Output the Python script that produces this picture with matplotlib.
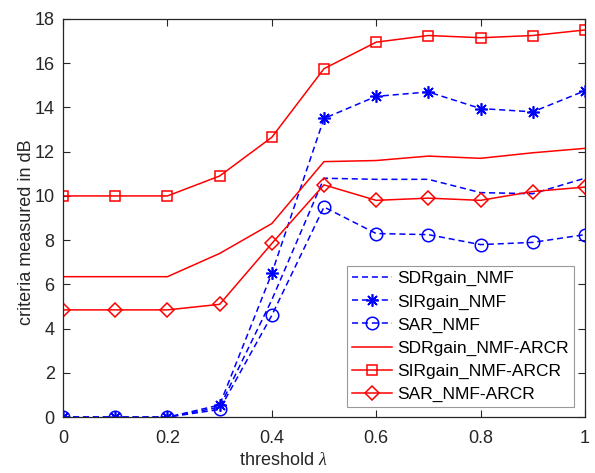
import numpy as np
import matplotlib
matplotlib.use("Agg")
from matplotlib import pyplot as plt

plt.rcParams['font.family'] = ['Liberation Sans', 'DejaVu Sans']
plt.rcParams['mathtext.fontset'] = 'custom'
plt.rcParams['mathtext.it'] = 'Liberation Serif:italic'

lam = [0, 0.1, 0.2, 0.3, 0.4, 0.5, 0.6, 0.7, 0.8, 0.9, 1.0]

# NMF
sdr_nmf = [0, 0, 0, 0.45, 5.3, 10.8, 10.75, 10.75, 10.15, 10.1, 10.8]
sir_nmf = [0, 0, 0, 0.55, 6.5, 13.5, 14.5, 14.7, 13.95, 13.8, 14.75]
sar_nmf = [0, 0, 0, 0.35, 4.6, 9.5, 8.3, 8.25, 7.8, 7.9, 8.25]

# NMF-ARCR
sdr_arcr = [6.35, 6.35, 6.35, 7.4, 8.75, 11.55, 11.6, 11.8, 11.7, 11.95, 12.15]
sir_arcr = [10, 10, 10, 10.9, 12.65, 15.75, 16.95, 17.25, 17.15, 17.25, 17.5]
sar_arcr = [4.85, 4.85, 4.85, 5.1, 7.85, 10.5, 9.8, 9.9, 9.8, 10.2, 10.4]

fig = plt.figure(figsize=(5.95, 4.73), dpi=100)
ax = fig.add_axes([0.106, 0.118, 0.877, 0.842])

dash = (4, 2.5)
lw = 1.1
ax.plot(lam, sdr_nmf, '--', color='b', lw=lw, dashes=dash, label='SDRgain_NMF')
ax.plot(lam, sir_nmf, '--', marker=(8, 2, 0), color='b', lw=lw, dashes=dash, ms=9, mew=1.2,
        label='SIRgain_NMF')
ax.plot(lam, sar_nmf, '--o', color='b', lw=lw, dashes=dash, ms=9, mfc='none', mew=1.1, label='SAR_NMF')
ax.plot(lam, sdr_arcr, '-', color='r', lw=lw, label='SDRgain_NMF-ARCR')
ax.plot(lam, sir_arcr, '-s', color='r', lw=lw, ms=7, mfc='none', mew=1.1, label='SIRgain_NMF-ARCR')
ax.plot(lam, sar_arcr, '-D', color='r', lw=lw, ms=7, mfc='none', mew=1.1, label='SAR_NMF-ARCR')

ax.set_xlim(0, 1)
ax.set_ylim(0, 18)
ax.set_xticks([0, 0.2, 0.4, 0.6, 0.8, 1])
ax.set_xticklabels(['0', '0.2', '0.4', '0.6', '0.8', '1'])
ax.set_yticks(range(0, 19, 2))
ax.tick_params(direction='in', top=True, right=True, length=5, labelsize=13, colors='#262626')
ax.tick_params(axis='x', pad=9)
ax.tick_params(axis='y', pad=6)
for s in ax.spines.values():
    s.set_color('#262626')
    s.set_linewidth(0.9)

ax.set_xlabel(r'threshold $\lambda$', fontsize=13, color='#262626')
ax.xaxis.set_label_coords(0.4225, -0.088)
ax.set_ylabel('criteria measured in dB', fontsize=13, color='#262626')
ax.yaxis.set_label_coords(-0.053, 0.465)

leg = ax.legend(loc='lower right', bbox_to_anchor=(0.98, 0.025), fontsize=12.5,
                fancybox=False, edgecolor='#999999', framealpha=1,
                handlelength=2.3, handletextpad=0.3, labelspacing=0.45,
                borderpad=0.3, borderaxespad=0)
leg.get_frame().set_linewidth(0.8)

fig.savefig('out.png', dpi=100)
